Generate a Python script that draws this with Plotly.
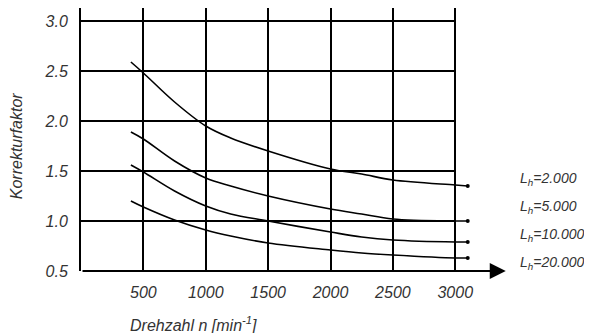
import plotly.graph_objects as go

# Drehzahl n [min^-1]
n = [400, 500, 750, 1000, 1200, 1500, 2000, 2250, 2500, 3000, 3100]

# Korrekturfaktor je Lebensdauer L_h
lh_2000 = [2.59, 2.48, 2.19, 1.95, 1.83, 1.70, 1.52, 1.47, 1.41, 1.36, 1.35]
lh_5000 = [1.89, 1.82, 1.60, 1.43, 1.35, 1.25, 1.12, 1.07, 1.02, 1.00, 1.00]
lh_10000 = [1.56, 1.49, 1.30, 1.15, 1.07, 1.00, 0.89, 0.84, 0.81, 0.79, 0.79]
lh_20000 = [1.20, 1.14, 1.01, 0.91, 0.85, 0.78, 0.71, 0.68, 0.66, 0.63, 0.63]

series = [lh_2000, lh_5000, lh_10000, lh_20000]
labels = ["L<sub>h</sub>=2.000", "L<sub>h</sub>=5.000", "L<sub>h</sub>=10.000", "L<sub>h</sub>=20.000"]
label_y = [1.42, 1.14, 0.86, 0.58]

x_ticks = [500, 1000, 1500, 2000, 2500, 3000]
y_ticks = [0.5, 1.0, 1.5, 2.0, 2.5, 3.0]
y_ticktext = ["0.5", "1.0", "1.5", "2.0", "2.5", "3.0"]

FONT = "Liberation Sans"
TXT = "#333333"

fig = go.Figure()
for s in series:
    fig.add_trace(go.Scatter(x=n, y=s, mode="lines", line=dict(color="black", width=1.6, shape="spline"),
                             showlegend=False, hoverinfo="skip"))
# small dots at the line ends
fig.add_trace(go.Scatter(x=[n[-1]] * len(series), y=[s[-1] for s in series], mode="markers",
                         marker=dict(color="black", size=4), showlegend=False, hoverinfo="skip"))

# horizontal grid, only up to 3000
for yv in y_ticks[1:]:
    fig.add_shape(type="line", x0=0, x1=x_ticks[-1], y0=yv, y1=yv, xref="x", yref="y",
                  line=dict(color="black", width=2), layer="below")

# x axis with arrow
fig.add_annotation(x=3405, y=0.5, ax=0, ay=0.5, xref="x", yref="y", axref="x", ayref="y",
                   text="", showarrow=True, arrowhead=2, arrowsize=1.6, arrowwidth=2, arrowcolor="black")

for lab, ly in zip(labels, label_y):
    fig.add_annotation(x=0.876, y=ly, xref="paper", yref="y", xanchor="left", yanchor="middle",
                       text=lab, showarrow=False, font=dict(family=FONT, size=14, color=TXT, style="italic"))

fig.add_annotation(x=-0.13, y=0.475, xref="paper", yref="paper", xanchor="center", yanchor="middle",
                   text="Korrekturfaktor", textangle=-90,
                   showarrow=False, font=dict(family=FONT, size=16, color=TXT, style="italic"))
fig.add_annotation(x=0.226, y=-0.2, xref="paper", yref="paper", xanchor="center", yanchor="middle",
                   text="Drehzahl n [min<sup>-1</sup>]",
                   showarrow=False, font=dict(family=FONT, size=16, color=TXT, style="italic"))

fig.update_xaxes(range=[0, 4000], tickvals=x_ticks, showgrid=True, gridcolor="black", gridwidth=2,
                 zeroline=False, showline=False, ticks="", ticklabelstandoff=10,
                 tickfont=dict(family=FONT, size=16, color=TXT, style="italic"))
fig.update_yaxes(range=[0.5, 3.13], tickvals=y_ticks, ticktext=y_ticktext, showgrid=False, zeroline=False,
                 showline=True, linecolor="black", linewidth=2, ticks="", ticklabelstandoff=8,
                 tickfont=dict(family=FONT, size=16, color=TXT, style="italic"))
# page body adds an 8px offset, so the figure is 8px smaller and shifted
fig.update_layout(width=584, height=325, margin=dict(l=73, r=12, t=0, b=62),
                  plot_bgcolor="white", paper_bgcolor="white", showlegend=False)
fig.write_html("out.html")
